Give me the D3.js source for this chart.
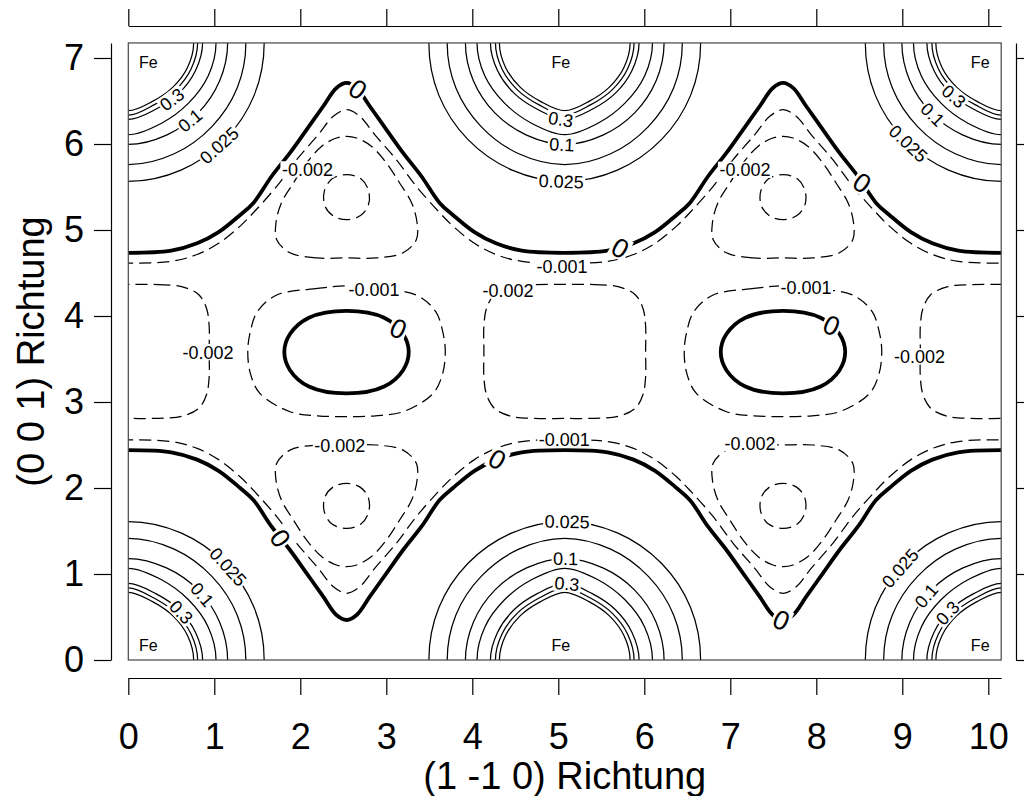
<!DOCTYPE html>
<html>
<head>
<meta charset="utf-8">
<script src="https://cdn.jsdelivr.net/npm/d3@7"></script>
<style>
  body { margin: 0; background: #fff; }
  svg text { font-family: "Liberation Sans", Arial, Helvetica, sans-serif; }
</style>
</head>
<body>
<svg id="chart" width="1024" height="796"></svg>
<script>
// Section through the lattice spanned by (1 -1 0) and (0 0 1); lengths in Å.
const xExtent = [0, 10.15];
const yExtent = [0, 7.175];
const xTicks = [0, 1, 2, 3, 4, 5, 6, 7, 8, 9, 10];
const yTicks = [0, 1, 2, 3, 4, 5, 6, 7];
const xTitle = "(1 -1 0) Richtung";
const yTitle = "(0 0 1) Richtung";

// Fe sites lying in the plane
const feSites = [[0, 0], [5.075, 0], [10.15, 0], [0, 7.175], [5.075, 7.175], [10.15, 7.175]];

// Positive contours round every Fe site: level and its radius at 0, 22.5, 45, 67.5, 90 degrees
const feLevels = [0.025, 0.05, 0.1, 0.2, 0.3, 0.4, 0.5];
const feRadii = [
  [1.58, 1.585, 1.59, 1.60, 1.61],
  [1.367, 1.37, 1.375, 1.395, 1.415],
  [1.155, 1.15, 1.15, 1.16, 1.18],
  [1.02, 1.005, 0.99, 1.01, 1.066],
  [0.864, 0.845, 0.83, 0.835, 0.89],
  [0.806, 0.79, 0.775, 0.78, 0.84],
  [0.76, 0.745, 0.73, 0.735, 0.787]
];

// Interstitial contours, traced in the quarter cell 0 <= x <= 2.54, 0 <= y <= 3.59
// level 0 along the Fe row (x from 0 to the saddle between two Fe)
const zeroRow = [[0, 2.44], [0.5, 2.415], [0.8, 2.33], [1.05, 2.2], [1.30, 2.0], [1.455, 1.86], [1.667, 1.55],
  [1.88, 1.279], [2.074, 1.008], [2.267, 0.736], [2.42, 0.523], [2.54, 0.465]];
// level -0.001 along the Fe row
const minus001Row = [[0, 2.56], [0.5, 2.54], [0.8, 2.46], [1.05, 2.33], [1.30, 2.13], [1.47, 1.957], [1.726, 1.667],
  [1.958, 1.357], [2.21, 1.066], [2.384, 0.852], [2.54, 0.776]];
// level -0.002 triangle, left half from its top to its lower tip
const triMinus002 = [[2.54, 2.5], [2.19, 2.5], [1.88, 2.44], [1.726, 2.287], [1.717, 2.093], [1.78, 1.86], [1.92, 1.628],
  [2.074, 1.395], [2.25, 1.2], [2.42, 1.105], [2.54, 1.085]];
// level -0.003 ring inside the triangle, left half
const triMinus003 = [[2.54, 2.055], [2.38, 2.01], [2.285, 1.89], [2.28, 1.72], [2.37, 1.58], [2.54, 1.53]];
// level 0 oval between the rows, left half
const ovalZero = [[2.54, 4.06], [2.1, 3.98], [1.88, 3.79], [1.814, 3.58], [1.88, 3.37], [2.1, 3.18], [2.54, 3.10]];
// level -0.001 ring round the oval, left half
const ovalMinus001 = [[2.54, 4.35], [2.2, 4.32], [1.726, 4.244], [1.5, 4.05], [1.415, 3.80], [1.389, 3.585],
  [1.42, 3.33], [1.53, 3.10], [1.88, 2.887], [2.2, 2.84], [2.54, 2.83]];
// level -0.002 loop above each Fe column: quarter, offsets from its centre, top to right
const bandMinus002 = [[0, 0.779], [0.35, 0.777], [0.62, 0.755], [0.82, 0.66], [0.91, 0.5], [0.94, 0.3], [0.94, 0]];

// Contour labels: level, anchor near the line in data units
const feLabelSpots = [
  [0.025, 5.1, 1.608], [0.1, 5.09, 1.18], [0.3, 5.1, 0.834],
  [0.3, 5.03, 6.287], [0.1, 5.04, 5.93], [0.025, 5.03, 5.497],
  [0.3, 0.485, 6.55], [0.1, 0.717, 6.28], [0.025, 1.008, 6.027],
  [0.025, 1.144, 1.066], [0.1, 0.853, 0.756], [0.3, 0.581, 0.523],
  [0.3, 9.61, 6.57], [0.1, 9.36, 6.34], [0.025, 9.07, 6.008],
  [0.025, 8.99, 1.047], [0.1, 9.28, 0.756], [0.3, 9.52, 0.56]
];
// "0" labels: anchor and glyph tilt in degrees
const zeroLabelSpots = [[2.656, 6.628, 35], [5.717, 4.787, 30], [8.547, 5.562, 35], [3.121, 3.845, 25],
  [8.159, 3.876, 25], [4.284, 2.364, 30], [1.791, 1.434, 55], [7.598, 0.445, 25]];
const negLabelSpots = [
  [-0.002, 2.083, 5.705], [-0.002, 7.17, 5.70], [-0.001, 5.043, 4.57], [-0.002, 4.415, 4.294],
  [-0.001, 2.857, 4.31], [-0.002, 0.927, 3.58], [-0.001, 7.88, 4.326], [-0.002, 9.2, 3.53],
  [-0.002, 2.46, 2.49], [-0.001, 5.07, 2.56], [-0.002, 7.23, 2.52]
];

// ---------------------------------------------------------------------------
const plotLeft = 128.3, plotBottom = 660, unit = 86;
const x = d3.scaleLinear().domain(xExtent).range([plotLeft, plotLeft + unit * xExtent[1]]);
const y = d3.scaleLinear().domain(yExtent).range([plotBottom, plotBottom - unit * yExtent[1]]);

const svg = d3.select("#chart");
const cellX = 5.075 / 2, cellY = 7.175 / 2;

const flipX = (pts, c) => pts.map(([a, b]) => [2 * c - a, b]);
const flipY = (pts, c) => pts.map(([a, b]) => [a, 2 * c - b]);
const shiftX = (pts, d) => pts.map(([a, b]) => [a + d, b]);

// closed loop from its left half, listed from the top down; both ends lie on x = c
function loopFromHalf(half, c) {
  return half.concat(flipX(half, c).slice(1, -1).reverse());
}
// closed loop from a quarter of offsets running from the top to the right
function loopFromQuarter(q, cx, cy) {
  const a = q;
  const b = q.slice(0, -1).reverse().map(([u, v]) => [u, -v]);
  const c = q.slice(1).map(([u, v]) => [-u, -v]);
  const d = q.slice(1, -1).reverse().map(([u, v]) => [-u, v]);
  return [...a, ...b, ...c, ...d].map(([u, v]) => [cx + u, cy + v]);
}
// line running along a Fe row across both cells, from a piece covering x = 0 .. cellX
function rowLine(piece) {
  const period = piece.concat(flipX(piece, cellX).reverse().slice(1));
  const full = period.concat(shiftX(period, 2 * cellX).slice(1));
  return [[-piece[1][0], piece[1][1]]].concat(full, [[4 * cellX + piece[1][0], piece[1][1]]]);
}

const contours = [];
// Fe shells
feSites.forEach(([sx, sy]) => {
  feLevels.forEach((lev, i) => {
    const angles = [90, 67.5, 45, 22.5, 0];
    const q = angles.map((a, k) => {
      const r = feRadii[i][4 - k];
      return [r * Math.cos(a * Math.PI / 180), r * Math.sin(a * Math.PI / 180)];
    });
    q[0][0] = 0; q[4][1] = 0;
    contours.push({ level: lev, closed: true, pts: loopFromQuarter(q, sx, sy) });
  });
});
// rows of level 0 and -0.001
[[0, zeroRow], [-0.001, minus001Row]].forEach(([lev, piece]) => {
  const lower = rowLine(piece);
  contours.push({ level: lev, closed: false, pts: lower });
  contours.push({ level: lev, closed: false, pts: flipY(lower, cellY) });
});
// ovals, their rings, and the triangles below and above them
[0, 2 * cellX].forEach(dx => {
  contours.push({ level: 0, closed: true, pts: shiftX(loopFromHalf(ovalZero, cellX), dx) });
  contours.push({ level: -0.001, closed: true, pts: shiftX(loopFromHalf(ovalMinus001, cellX), dx) });
  const t2 = shiftX(loopFromHalf(triMinus002, cellX), dx);
  const t3 = shiftX(loopFromHalf(triMinus003, cellX), dx);
  contours.push({ level: -0.002, closed: true, pts: t2 });
  contours.push({ level: -0.002, closed: true, pts: flipY(t2, cellY) });
  contours.push({ level: -0.003, closed: true, pts: t3 });
  contours.push({ level: -0.003, closed: true, pts: flipY(t3, cellY) });
});
// -0.002 loops above the Fe columns
[0, 2 * cellX, 4 * cellX].forEach(cx => {
  contours.push({ level: -0.002, closed: true, pts: loopFromQuarter(bandMinus002, cx, cellY) });
});

// ---------------------------------------------------------------------------
const defs = svg.append("defs");
defs.append("clipPath").attr("id", "plotClip").append("rect")
  .attr("x", x(xExtent[0])).attr("y", y(yExtent[1]))
  .attr("width", x(xExtent[1]) - x(xExtent[0])).attr("height", y(yExtent[0]) - y(yExtent[1]));

const lineOpen = d3.line().x(d => x(d[0])).y(d => y(d[1])).curve(d3.curveCatmullRom.alpha(0.5));
const lineClosed = d3.line().x(d => x(d[0])).y(d => y(d[1])).curve(d3.curveCatmullRomClosed.alpha(0.5));

const gC = svg.append("g").attr("clip-path", "url(#plotClip)");
const pathNodes = [];
gC.selectAll("path").data(contours).join("path")
  .attr("d", d => (d.closed ? lineClosed : lineOpen)(d.pts))
  .attr("fill", "none")
  .attr("stroke", "#000")
  .attr("stroke-width", d => d.level === 0 ? 3.8 : 1.25)
  .attr("stroke-dasharray", d => d.level < 0 ? "12 6" : null)
  .attr("stroke-linejoin", "round")
  .each(function (d) { pathNodes.push({ node: this, level: d.level }); });

// point on the nearest contour of a level, with the direction of the line there
function snapToContour(level, px, py) {
  let best = { dist: Infinity };
  pathNodes.filter(p => Math.abs(p.level - level) < 1e-9).forEach(({ node }) => {
    const len = node.getTotalLength();
    for (let s = 0; s <= len; s += 1.5) {
      const p = node.getPointAtLength(s);
      const dd = (p.x - px) ** 2 + (p.y - py) ** 2;
      if (dd < best.dist) best = { dist: dd, node, s, len, p };
    }
  });
  const a = best.node.getPointAtLength(Math.max(0, best.s - 4));
  const b = best.node.getPointAtLength(Math.min(best.len, best.s + 4));
  let ang = Math.atan2(b.y - a.y, b.x - a.x) * 180 / Math.PI;
  if (ang > 90) ang -= 180;
  if (ang <= -90) ang += 180;
  return { x: best.p.x, y: best.p.y, angle: ang };
}

const gL = svg.append("g").attr("clip-path", "url(#plotClip)");
function drawLabel(text, px, py, angle, size) {
  const g = gL.append("g").attr("transform", `translate(${px},${py}) rotate(${angle})`);
  const t = g.append("text").attr("text-anchor", "middle").attr("dy", "0.36em")
    .attr("font-size", size).attr("fill", "#000").text(text);
  const w = t.node().getComputedTextLength();
  g.insert("rect", "text").attr("x", -w / 2 - 1.5).attr("y", -size * 0.37 - 1.5)
    .attr("width", w + 3).attr("height", size * 0.74 + 3).attr("fill", "#fff");
}
const fmt = v => String(v);
feLabelSpots.forEach(([lev, lx, ly]) => {
  const s = snapToContour(lev, x(lx), y(ly));
  drawLabel(fmt(lev), s.x, s.y, s.angle, 18);
});
zeroLabelSpots.forEach(([lx, ly, tilt]) => {
  const s = snapToContour(0, x(lx), y(ly));
  drawLabel("0", s.x, s.y, tilt, 27);
});
negLabelSpots.forEach(([lev, lx, ly]) => {
  drawLabel(fmt(lev), x(lx), y(ly), 0, 18);
});

// Fe markers in the corners of the section
feSites.forEach(([sx, sy]) => {
  const dx = sx === xExtent[0] ? 20 : sx === xExtent[1] ? -21 : -4;
  const dy = sy === yExtent[0] ? -15 : 19;
  svg.append("text").attr("x", x(sx) + dx).attr("y", y(sy) + dy).attr("dy", "0.36em")
    .attr("text-anchor", "middle").attr("font-size", 16).text("Fe");
});

// frame
svg.append("rect").attr("x", x(xExtent[0])).attr("y", y(yExtent[1]))
  .attr("width", x(xExtent[1]) - x(xExtent[0])).attr("height", y(yExtent[0]) - y(yExtent[1]))
  .attr("fill", "none").attr("stroke", "#444").attr("stroke-width", 1.2);

// axes, set off from the frame
function styleAxis(g, size) {
  g.attr("font-family", '"Liberation Sans", Arial, sans-serif').attr("font-size", size);
  g.selectAll("path, line").attr("stroke", "#000").attr("stroke-width", 1.2);
  g.selectAll("text").attr("fill", "#000");
}
svg.append("g").attr("transform", "translate(0,678)")
  .call(d3.axisBottom(x).tickValues(xTicks).tickSize(17).tickPadding(28).tickSizeOuter(0))
  .call(g => styleAxis(g, 36));
svg.append("g").attr("transform", "translate(111,0)")
  .call(d3.axisLeft(y).tickValues(yTicks).tickSize(17).tickPadding(10).tickSizeOuter(0))
  .call(g => styleAxis(g, 36));
svg.append("g").attr("transform", "translate(0,26)")
  .call(d3.axisTop(x).tickValues(xTicks).tickSize(17).tickFormat("").tickSizeOuter(0))
  .call(g => styleAxis(g, 36));
svg.append("g").attr("transform", "translate(1016,0)")
  .call(d3.axisRight(y).tickValues(yTicks).tickSize(17).tickFormat("").tickSizeOuter(0))
  .call(g => styleAxis(g, 36));

svg.append("text").attr("x", (x(xExtent[0]) + x(xExtent[1])) / 2).attr("y", 775).attr("dy", "0.36em")
  .attr("text-anchor", "middle").attr("font-size", 38).text(xTitle);
svg.append("text").attr("transform", `translate(30,${(y(yExtent[0]) + y(yExtent[1])) / 2}) rotate(-90)`)
  .attr("dy", "0.36em").attr("text-anchor", "middle").attr("font-size", 38).text(yTitle);
</script>
</body>
</html>
